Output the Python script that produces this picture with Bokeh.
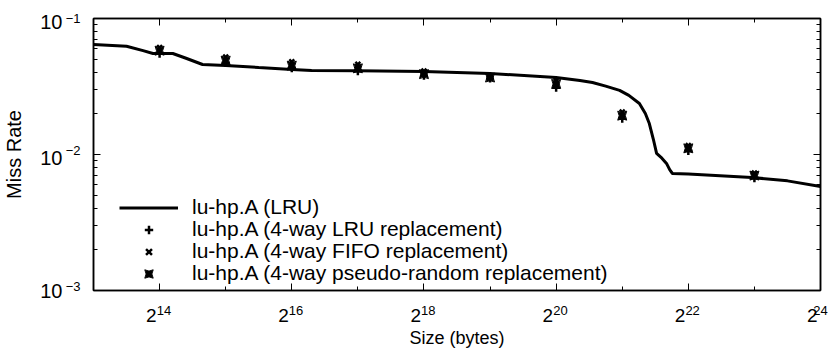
from bokeh.plotting import figure
from bokeh.models import (LogAxis, FixedTicker, Range1d, Legend, LegendItem,
                          CustomJSTickFormatter)
from bokeh.embed import file_html
from bokeh.resources import INLINE

# ---- data ----
lru_exp = [13.0, 13.5, 13.75, 13.9, 14.2, 14.4, 14.65, 15.0, 15.5, 16.0, 16.3, 17.0,
           18.0, 19.0, 20.0, 20.36, 20.55, 20.75, 20.96, 21.1, 21.26, 21.35, 21.41,
           21.47, 21.52, 21.6, 21.67, 21.72, 21.76, 22.0, 22.96, 23.5, 24.0]
lru_miss = [0.0644, 0.0625, 0.058, 0.0553, 0.0553, 0.051, 0.0459, 0.0451, 0.0436,
            0.0422, 0.0415, 0.0412, 0.0408, 0.0394, 0.0368, 0.035, 0.0338, 0.0318,
            0.0296, 0.0272, 0.0237, 0.020, 0.0169, 0.013, 0.0102, 0.0094, 0.0086,
            0.0077, 0.00725, 0.0072, 0.00678, 0.0064, 0.00582]

pt_exp = [14, 15, 16, 17, 18, 19, 20, 21, 22, 23]
way4_lru = [0.055, 0.047, 0.043, 0.041, 0.038, 0.0362, 0.031, 0.0183, 0.0106, 0.0067]
way4_fifo = [0.061, 0.052, 0.048, 0.046, 0.041, 0.0374, 0.035, 0.0205, 0.0116, 0.0073]
way4_rand = [0.058, 0.049, 0.045, 0.043, 0.039, 0.0368, 0.033, 0.0193, 0.0111, 0.0070]

x_major_exp = [14, 16, 18, 20, 22, 24]
x_minor_exp = list(range(13, 25))
y_major_exp = [-3, -2, -1]

x_tick_base = "2"
y_tick_base = "10"
x_title = "Size (bytes)"
y_title = "Miss Rate"
labels = ["lu-hp.A (LRU)",
          "lu-hp.A (4-way LRU replacement)",
          "lu-hp.A (4-way FIFO replacement)",
          "lu-hp.A (4-way pseudo-random replacement)"]

FONT = "Liberation Sans"
X_LO, X_HI = 13, 24
Y_LO, Y_HI = -3, -1

p = figure(width=840, height=360, x_axis_type="log", y_axis_type="log",
           x_range=Range1d(2 ** X_LO, 2 ** X_HI), y_range=Range1d(10.0 ** Y_LO, 10.0 ** Y_HI),
           output_backend="svg", toolbar_location=None,
           min_border_left=91, min_border_right=20, min_border_top=18,
           min_border_bottom=70)
p.grid.visible = False
p.outline_line_color = "black"
p.outline_line_width = 1.5
p.background_fill_color = "white"
p.border_fill_color = "white"

y_minor = [m * 10.0 ** k for k in (-3, -2) for m in range(1, 11)]
xt = FixedTicker(ticks=[2 ** e for e in x_major_exp],
                 minor_ticks=[2 ** e for e in x_minor_exp])
yt = FixedTicker(ticks=[10.0 ** e for e in y_major_exp], minor_ticks=y_minor)


def tick_axis(ax):
    ax.axis_line_color = "black"
    ax.axis_line_width = 1.5
    ax.major_tick_in = 7
    ax.major_tick_out = 0
    ax.minor_tick_in = 4
    ax.minor_tick_out = 0
    ax.major_tick_line_color = "black"
    ax.minor_tick_line_color = "black"
    ax.major_label_text_font_size = "0px"
    ax.major_label_text_color = None
    ax.major_label_standoff = 0


def label_axis(ticker, formatter, size, standoff, bounds="auto"):
    ax = LogAxis(ticker=ticker, formatter=formatter, bounds=bounds)
    ax.axis_line_color = None
    ax.major_tick_line_color = None
    ax.minor_tick_line_color = None
    ax.major_tick_in = 0
    ax.major_tick_out = 0
    ax.minor_tick_in = 0
    ax.minor_tick_out = 0
    ax.major_label_text_font = FONT
    ax.major_label_text_font_size = size
    ax.major_label_text_color = "black"
    ax.major_label_standoff = standoff
    ax.axis_label_text_font = FONT
    ax.axis_label_text_font_style = "normal"
    ax.axis_label_text_color = "black"
    return ax


def clamp(v, lo, hi):
    return min(max(v, lo), hi)


p.xaxis[0].ticker = xt
p.yaxis[0].ticker = yt
tick_axis(p.xaxis[0])
tick_axis(p.yaxis[0])
top = LogAxis(ticker=xt)
tick_axis(top)
p.add_layout(top, "above")
right = LogAxis(ticker=yt)
tick_axis(right)
p.add_layout(right, "right")

# --- x tick labels: base "2" plus superscript exponent (separate label rows) ---
x_exp_ax = label_axis(
    FixedTicker(ticks=[2 ** clamp(e + 0.065, X_LO, X_HI) for e in x_major_exp], minor_ticks=[]),
    CustomJSTickFormatter(code="return String(Math.round(Math.log2(tick)));"),
    "13px", 15)
x_base_ax = label_axis(
    FixedTicker(ticks=[2 ** clamp(e - 0.125, X_LO, X_HI) for e in x_major_exp], minor_ticks=[]),
    CustomJSTickFormatter(args=dict(b=x_tick_base), code="return b;"),
    "19px", -9)
x_title_ax = label_axis(FixedTicker(ticks=[], minor_ticks=[]),
                        CustomJSTickFormatter(code="return '';"), "0px", 0,
                        (2 ** X_LO, 2 ** (X_LO + 2 * (436 - 91) / 66.3)))
x_title_ax.axis_label = x_title
x_title_ax.axis_label_text_font_size = "18px"
x_title_ax.axis_label_standoff = 3
p.add_layout(x_exp_ax, "below")
p.add_layout(x_base_ax, "below")
p.add_layout(x_title_ax, "below")

# --- y tick labels: base "10" plus superscript exponent ---
y_exp_ax = label_axis(
    FixedTicker(ticks=[10.0 ** clamp(e + 0.029, Y_LO, Y_HI) for e in y_major_exp], minor_ticks=[]),
    CustomJSTickFormatter(code="return String(Math.round(Math.log10(tick))).replace('-', '\u2212');"),
    "13px", 13)
y_base_ax = label_axis(
    FixedTicker(ticks=[10.0 ** clamp(e - 0.028, Y_LO, Y_HI) for e in y_major_exp], minor_ticks=[]),
    CustomJSTickFormatter(args=dict(b=y_tick_base), code="return b;"),
    "20px", 0)
y_base_ax.axis_label = y_title
y_base_ax.axis_label_text_font_size = "20px"
y_base_ax.axis_label_standoff = 12
p.add_layout(y_exp_ax, "left")
p.add_layout(y_base_ax, "left")

lx = [2.0 ** e for e in lru_exp]
px = [2.0 ** e for e in pt_exp]

r0 = p.line(lx, lru_miss, line_color="black", line_width=3)
r1 = p.scatter(px, way4_lru, marker="cross", size=8, line_color="black", line_width=2.5)
r2 = p.scatter(px, way4_fifo, marker="x", size=7, line_color="black", line_width=2.5)
r3 = p.scatter(px, way4_rand, marker="square_pin", size=9, line_color="black",
               fill_color="black", line_width=1)

# one single-row legend per entry, so rows can sit as tightly as in the original
row_offsets = [71, 49, 27, 5]
for lab, rend, off in zip(labels, [r0, r1, r2, r3], row_offsets):
    lg = Legend(items=[LegendItem(label=lab, renderers=[rend])],
                location=(26, off), orientation="vertical")
    lg.background_fill_alpha = 0
    lg.border_line_color = None
    lg.label_text_font = FONT
    lg.label_text_font_size = "21px"
    lg.label_text_color = "black"
    lg.label_text_baseline = "middle"
    lg.glyph_width = 59
    lg.glyph_height = 21
    lg.label_height = 21
    lg.label_standoff = 14
    lg.spacing = 0
    lg.padding = 0
    lg.margin = 0
    p.add_layout(lg, "center")

open("out.html", "w").write(file_html(p, INLINE))
